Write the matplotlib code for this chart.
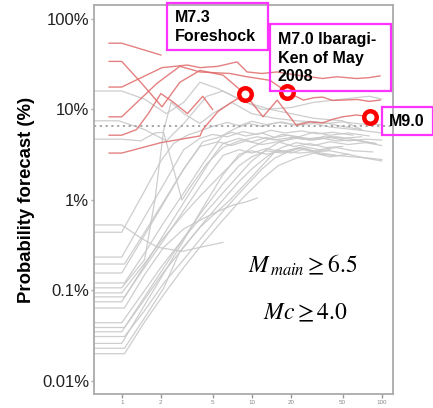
import matplotlib
matplotlib.use("Agg")
import matplotlib.pyplot as plt
from matplotlib.patches import Rectangle

plt.rcParams['font.family'] = ['Liberation Sans', 'DejaVu Sans']
plt.rcParams['mathtext.fontset'] = 'stix'

# ---------------- data ----------------
x_ticks = [1, 2, 5, 10, 20, 50, 100]
x_tick_labels = ['1', '2', '5', '10', '20', '50', '100']
y_ticks = [0.01, 0.1, 1, 10, 100]
y_tick_labels = ['0.01%', '0.1%', '1%', '10%', '100%']
threshold = 6.5

grey_x = [
    [0.62, 1.0, 1.5, 2.0, 2.5, 3.2, 4, 5, 6.5, 8, 10, 13, 17, 22, 30, 40, 55, 75, 100],
    [0.62, 1.0, 1.5, 2.0, 3.0, 4.0, 5, 6.5, 8.5, 11, 14, 18, 24, 32, 42, 60],
    [0.62, 1.05, 1.5, 2.1, 3.0, 4.2, 5.5, 7, 9, 12, 15, 19, 25, 33, 45, 60, 90],
    [0.62, 1.0, 1.5, 2.0, 3.0, 4.0, 5.5, 7, 9, 12, 16, 21, 28, 37, 50],
    [0.62, 1.05, 1.5, 2.1, 3.0, 4.2, 6.0, 7.5, 9.5, 12, 16, 21, 28, 37, 50, 70, 100],
    [0.62, 1.0, 1.5, 1.8, 2.1, 2.4, 3.0, 4.0, 5.0, 7.0, 10, 15, 22, 35, 50, 70],
    [0.62, 1.0, 1.5, 2.0, 3.0, 4.0, 6.0, 8.0, 10, 13, 17, 23, 30, 40, 55, 80],
    [0.62, 1.05, 1.5, 2.1, 3.0, 4.2, 6.0, 8, 10, 13, 17, 23, 30, 40],
    [0.62, 1.0, 1.5, 2.0, 3.0, 4.0, 5.0, 6.0, 8, 10, 13, 17, 22, 30, 40, 55, 75, 100],
    [0.62, 1.05, 1.5, 2.1, 3.0, 4.2, 5.5, 7.2, 9, 11],
    [0.62, 1.0, 1.5, 2.0, 3.0, 4.0, 6.0, 8.0, 10, 13, 16, 21, 28, 37, 50, 70],
    [0.62, 1.05, 1.5, 2.1, 3.0, 4.2, 6.0, 8.0, 10, 13, 17, 22, 30, 40, 55, 75, 100],
    [0.62, 1.0, 1.5, 2.0, 3.0, 4.0, 6.0, 8.0, 10, 13, 17, 23, 30, 40, 55],
    [0.62, 1.05, 1.5, 2.1, 3.0, 4.2, 6.0, 8.5, 12, 15, 19, 25, 33, 45, 60, 85],
    [0.62, 1.0, 1.5, 2.0, 3.0, 4.0, 6.0, 8.0, 10, 13, 17, 23, 30, 45],
    [0.62, 1.05, 1.5, 2.1, 2.8, 4.0, 6.8, 10, 15.6, 20, 26, 34, 45, 60, 80, 100],
    [0.62, 1.0, 1.4, 1.9, 2.9, 4.0, 6.0],
    [0.62, 1.0, 1.5, 2.2, 3.0, 4.0, 5.5, 8, 12, 20, 30, 50, 80, 100],
    [0.62, 0.95, 1.5, 2.2, 3.0, 4.5, 6, 9, 14, 20, 30, 50, 70],
    [0.62, 1.0, 1.4, 1.8, 2.1, 2.9, 3.5, 4.5, 6, 8, 11, 15, 22, 30, 45, 65, 90],
    [0.62, 1.05, 1.5, 2.1, 3.0, 4.2, 6.0, 8.5, 12, 16, 22, 30, 40, 55, 75, 100],
]
grey_y = [
    [0.44, 0.44, 1.26, 2.7, 4.2, 5.2, 5.8, 6.5, 7.2, 6.6, 7.4, 6.8, 7.3, 6.7, 7.0, 6.4, 6.1, 5.8, 5.5],
    [0.234, 0.234, 0.65, 1.32, 3.6, 4.8, 5.3, 5.0, 5.7, 5.3, 5.9, 5.5, 5.8, 5.4, 5.6, 5.2],
    [0.196, 0.196, 0.44, 0.96, 2.2, 4.4, 4.9, 5.6, 5.1, 5.5, 4.9, 5.2, 4.7, 4.9, 4.5, 4.6, 4.2],
    [0.156, 0.156, 0.41, 0.82, 2.2, 3.9, 4.4, 4.0, 4.5, 4.1, 4.4, 3.9, 4.2, 3.8, 3.9],
    [0.121, 0.121, 0.26, 0.56, 1.2, 2.5, 5.2, 6.2, 7.0, 6.5, 7.2, 6.8, 7.4, 7.0, 7.3, 6.9, 6.8],
    [0.107, 0.107, 0.22, 1.0, 5.9, 12, 9, 7, 9, 12, 9, 8, 7.5, 7.2, 6.5, 6.0],
    [0.094, 0.094, 0.2, 0.35, 0.7, 1.1, 2.0, 3.0, 3.8, 4.6, 5.3, 5.0, 5.6, 5.2, 5.5, 5.1],
    [0.085, 0.085, 0.18, 0.36, 0.77, 1.56, 3.1, 3.6, 3.3, 3.7, 3.4, 3.8, 3.5, 3.6],
    [0.075, 0.075, 0.19, 0.37, 0.94, 1.8, 3.0, 4.2, 4.8, 4.4, 4.9, 4.5, 4.8, 4.6, 4.9, 4.5, 4.7, 4.6],
    [0.064, 0.064, 0.15, 0.3, 0.48, 0.62, 0.75, 0.88, 0.95, 1.05],
    [0.044, 0.044, 0.1, 0.18, 0.38, 0.62, 1.2, 1.9, 2.7, 3.6, 4.3, 4.9, 4.6, 5.1, 4.8, 5.0],
    [0.039, 0.039, 0.08, 0.16, 0.3, 0.55, 1.0, 1.6, 2.2, 3.0, 3.8, 4.3, 4.0, 4.4, 4.1, 4.3, 4.0],
    [0.035, 0.035, 0.085, 0.16, 0.38, 0.7, 1.5, 2.4, 3.0, 3.5, 3.3, 3.7, 3.4, 3.5, 3.2],
    [0.031, 0.031, 0.06, 0.12, 0.22, 0.4, 0.75, 1.3, 2.2, 2.9, 3.4, 3.9, 3.6, 3.8, 3.5, 3.4],
    [0.026, 0.026, 0.069, 0.137, 0.36, 0.73, 1.9, 3.2, 3.5, 3.2, 3.5, 3.3, 3.4, 3.1],
    [0.023, 0.023, 0.05, 0.106, 0.27, 0.5, 1.0, 1.8, 3.6, 3.3, 3.7, 3.2, 3.1, 3.0, 2.9, 2.8],
    [0.53, 0.53, 0.38, 0.3, 0.27, 0.3, 0.34],
    [16, 16, 13, 9, 12, 20, 17, 13, 10, 10.5, 12, 13, 14, 13],
    [7.5, 7.5, 6, 4.5, 7, 14, 16, 12, 10, 9, 8, 7.5, 6],
    [4.7, 4.7, 4.5, 5.5, 5.6, 1.0, 1.5, 2.5, 3.8, 4.5, 5.0, 4.6, 5.0, 4.7, 5.0, 4.6, 4.2],
    [0.02, 0.02, 0.045, 0.09, 0.18, 0.33, 0.6, 1.05, 1.7, 2.4, 2.9, 3.3, 3.0, 3.2, 2.9, 2.7],
]

red_x = [
    [0.8, 1.0, 2.0],
    [0.8, 1.0, 1.4, 2.04, 2.8, 4.0, 6.0, 8.9, 12.2, 15.7, 22, 28, 35, 42, 50, 64, 81],
    [0.8, 1.0, 2.04, 3.2, 4.0, 5.5, 7.7, 9.2, 12, 15.6, 22, 28, 35, 45, 64, 80, 97],
    [0.8, 1.0, 1.87, 2.8, 4.0, 6.8, 9.2, 13.8, 18.7, 25, 30, 35, 42, 50, 65, 80, 97],
    [0.8, 1.0, 1.3, 1.6, 2.0, 2.5, 3.2, 4.2, 5.0],
    [0.8, 1.0, 2.0, 4.0, 4.2, 5.5, 7.0, 8.9],
]
red_y = [
    [54, 54, 40],
    [34, 34, 20, 10.7, 20, 27, 24, 14.8, 8.3, 12.7, 6.7, 7.3, 7.1, 7.8, 8.3, 8.7, 8.3],
    [17.7, 17.7, 29, 31, 29, 30, 33.6, 26, 25, 26, 24, 23, 22, 23, 22, 22.5, 23.5],
    [8.3, 8.3, 19.5, 30, 26, 25, 23, 21, 15.6, 12.7, 13.5, 13.7, 12.6, 12.7, 12.9, 12.3, 12.7],
    [5.2, 5.2, 6.0, 9.0, 15, 12, 9, 14, 10],
    [3.3, 3.3, 4.3, 5.1, 6.0, 9.5, 12, 14.8],
]

event_x = [8.9, 18.7, 81]
event_y = [14.8, 15.6, 8.3]

labels = ['M7.3\nForeshock', 'M7.0 Ibaragi-\nKen of May\n2008', 'M9.0']

# ---------------- figure ----------------
W, H = 433, 408
fig = plt.figure(figsize=(W / 100, H / 100), dpi=100)
ax = fig.add_axes([94 / W, 14 / H, 299 / W, 389 / H])

for xs, ys in zip(grey_x, grey_y):
    ax.plot(xs, ys, color='#c8c8c8', lw=0.9, alpha=0.9, zorder=2)
for xs, ys in zip(red_x, red_y):
    ax.plot(xs, ys, color='#e06a6a', lw=1.0, alpha=0.85, zorder=3)

ax.axhline(threshold, color='#a0a0a0', lw=1.3, ls=(0, (1.2, 2.0)), zorder=2)

ax.plot(event_x, event_y, 'o', ms=9, mfc='white', mec='#ff0000', mew=3.2, zorder=5)

ax.set_xscale('log')
ax.set_yscale('log')
ax.set_xlim(0.612, 122)
ax.set_ylim(0.00718, 142.8)

ax.set_xticks(x_ticks)
ax.set_xticklabels(x_tick_labels)
ax.xaxis.set_minor_locator(matplotlib.ticker.NullLocator())
ax.set_yticks(y_ticks)
ax.set_yticklabels(y_tick_labels)
ax.yaxis.set_minor_locator(matplotlib.ticker.NullLocator())

ax.tick_params(axis='x', direction='out', length=3, width=1, color='#999999',
               labelsize=4.5, labelcolor='#888888', pad=1.5)
ax.tick_params(axis='y', direction='out', length=2, width=1, color='#aaaaaa',
               labelsize=12, labelcolor='#222222', pad=1.5)

for s in ax.spines.values():
    s.set_color('#aaaaaa')
    s.set_linewidth(1.3)

ax.set_ylabel('Probability forecast (%)', fontsize=13.3, fontweight='bold', labelpad=5)


# annotation boxes (pixel coords from top-left)
def px(x, y):
    return x / W, 1 - y / H


boxes = [(167, 3, 268, 50), (270, 24, 391, 91), (382, 107, 433, 135)]
text_pos = [(175, 27), (278, 58), (389, 121)]
for (x0, y0, x1, y1), (tx, ty), lab in zip(boxes, text_pos, labels):
    fx0, fy1 = px(x0, y1)
    fig.patches.append(Rectangle((fx0, fy1), (x1 - x0) / W, (y1 - y0) / H,
                                 transform=fig.transFigure, fill=False,
                                 edgecolor='#ff33ff', lw=1.6, zorder=10))
    tx_, ty_ = px(tx, ty)
    fig.text(tx_, ty_, lab, fontsize=11.5, fontweight='bold', ha='left', va='center',
             linespacing=1.3, color='black')

fig.text(303 / W, 1 - 265 / H, r'$M_{\,main} \geq 6.5$', fontsize=17, ha='center', va='center')
fig.text(305 / W, 1 - 313 / H, r'$Mc \geq 4.0$', fontsize=17, ha='center', va='center')

fig.savefig('out.png', dpi=100)
